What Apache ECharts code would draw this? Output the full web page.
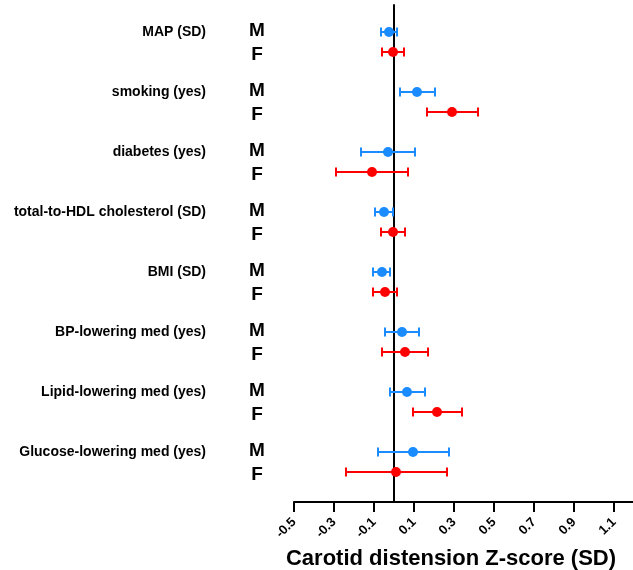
<!DOCTYPE html>
<html>
<head>
<meta charset="utf-8">
<script src="https://cdn.jsdelivr.net/npm/echarts@6/dist/echarts.min.js"></script>
<style>html,body{margin:0;padding:0;background:#fff}#c{width:633px;height:570px}</style>
</head>
<body>
<div id="c"></div>
<script>
var categories = ['MAP (SD)', 'smoking (yes)', 'diabetes (yes)', 'total-to-HDL cholesterol (SD)', 'BMI (SD)', 'BP-lowering med (yes)', 'Lipid-lowering med (yes)', 'Glucose-lowering med (yes)'];
var maleEst = [-0.025, 0.115, -0.03, -0.05, -0.06, 0.04, 0.065, 0.095];
var maleLow = [-0.065, 0.03, -0.165, -0.095, -0.105, -0.045, -0.02, -0.08];
var maleHigh = [0.015, 0.205, 0.105, -0.005, -0.02, 0.125, 0.155, 0.275];
var femaleEst = [-0.005, 0.29, -0.11, -0.005, -0.045, 0.055, 0.215, 0.01];
var femaleLow = [-0.06, 0.165, -0.29, -0.065, -0.105, -0.06, 0.095, -0.24];
var femaleHigh = [0.05, 0.42, 0.07, 0.055, 0.015, 0.17, 0.34, 0.265];
var xTickMin = -0.5, xTickStep = 0.2;
var xAxisTitle = 'Carotid distension Z-score (SD)';

var BLUE = '#1a8cff', RED = '#ff0000';
function rows(est, low, high, off) {
  return categories.map(function (c, i) { return [est[i], i * 3 + off, low[i], high[i]]; });
}
var mRows = rows(maleEst, maleLow, maleHigh, 0);
var fRows = rows(femaleEst, femaleLow, femaleHigh, 1);

function errRender(color) {
  return function (params, api) {
    var y = api.value(1);
    var a = api.coord([api.value(2), y]);
    var b = api.coord([api.value(3), y]);
    var h = 4.5;
    var st = { stroke: color, lineWidth: 2 };
    return { type: 'group', children: [
      { type: 'line', shape: { x1: a[0], y1: a[1], x2: b[0], y2: b[1] }, style: st },
      { type: 'line', shape: { x1: a[0], y1: a[1] - h, x2: a[0], y2: a[1] + h }, style: st },
      { type: 'line', shape: { x1: b[0], y1: b[1] - h, x2: b[0], y2: b[1] + h }, style: st }
    ] };
  };
}

var labelData = categories.map(function (c, i) { return [xTickMin, i * 3, c]; });
function labelRender(params, api) {
  var p0 = api.coord([api.value(0), api.value(1)]);
  var p1 = api.coord([api.value(0), api.value(1) + 1]);
  return { type: 'group', children: [
    { type: 'text', x: p0[0] - 88, y: p0[1], style: { text: categories[params.dataIndex], align: 'right', verticalAlign: 'middle', font: 'bold 14px "Liberation Sans", Arial, sans-serif', fill: '#000' } },
    { type: 'text', x: p0[0] - 37, y: p0[1] - 1.5, style: { text: 'M', align: 'center', verticalAlign: 'middle', font: 'bold 19px "Liberation Sans", Arial, sans-serif', fill: '#000' } },
    { type: 'text', x: p1[0] - 37, y: p1[1] + 2.5, style: { text: 'F', align: 'center', verticalAlign: 'middle', font: 'bold 19px "Liberation Sans", Arial, sans-serif', fill: '#000' } }
  ] };
}

var chart = echarts.init(document.getElementById('c'));
chart.setOption({
  animation: false,
  backgroundColor: '#fff',
  grid: { left: 294, top: 5, width: 340, height: 497, containLabel: false, outerBoundsMode: 'none' },
  xAxis: {
    type: 'value', min: xTickMin, max: 1.2, interval: xTickStep,
    splitLine: { show: false },
    axisLine: { show: true, onZero: false, lineStyle: { color: '#000', width: 2 } },
    axisTick: { show: true, length: 10, lineStyle: { color: '#000', width: 2 } },
    axisLabel: { rotate: 45, color: '#000', fontWeight: 'bold', fontSize: 13, fontFamily: '"Liberation Sans", Arial, sans-serif', margin: 18, showMaxLabel: false,
      formatter: function (v) { return (Math.round(v * 10) / 10).toFixed(1); } },
    name: xAxisTitle, nameLocation: 'middle', nameGap: 42,
    nameTextStyle: { color: '#000', fontWeight: 'bold', fontSize: 22, fontFamily: '"Liberation Sans", Arial, sans-serif', padding: [0, 26, 0, 0] }
  },
  yAxis: {
    type: 'value', min: -1.35, max: 23.5, inverse: true,
    splitLine: { show: false },
    axisLine: { show: true, onZero: true, lineStyle: { color: '#000', width: 2 } },
    axisTick: { show: false }, axisLabel: { show: false }
  },
  series: [
    { type: 'custom', renderItem: labelRender, data: labelData, clip: false, silent: true, z: 5 },
    { type: 'custom', renderItem: errRender(BLUE), data: mRows, encode: { x: [0, 2, 3], y: 1 }, z: 3 },
    { type: 'custom', renderItem: errRender(RED), data: fRows, encode: { x: [0, 2, 3], y: 1 }, z: 3 },
    { type: 'scatter', data: mRows, symbol: 'circle', symbolSize: 10, itemStyle: { color: BLUE, opacity: 1 }, z: 4 },
    { type: 'scatter', data: fRows, symbol: 'circle', symbolSize: 10, itemStyle: { color: RED, opacity: 1 }, z: 4 }
  ]
});
</script>
</body>
</html>
